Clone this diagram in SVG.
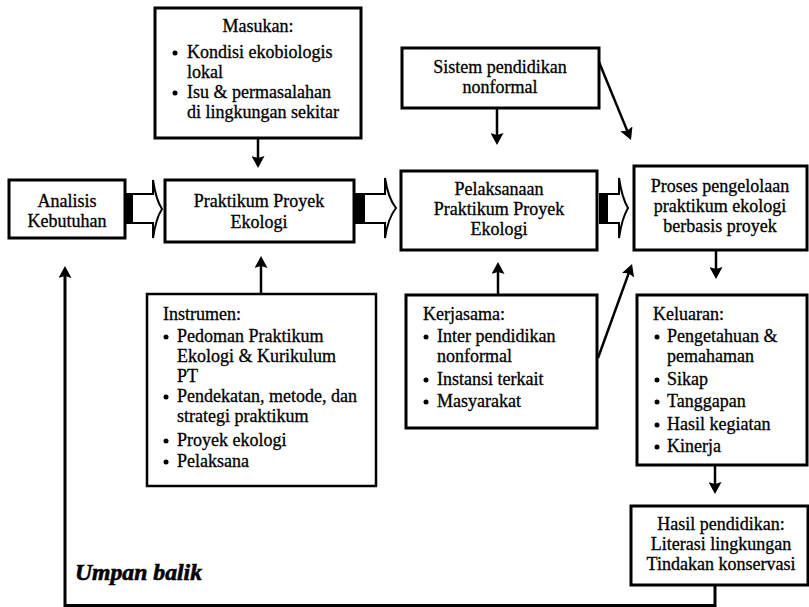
<svg xmlns="http://www.w3.org/2000/svg" width="809" height="607" viewBox="0 0 809 607">
<style>
  .box { fill: #fff; stroke: #000; stroke-width: 3; }
  .thin { stroke-width: 2.5; }
  text { font-family: "Liberation Serif", "Times New Roman", serif; font-size: 18px; fill: #000; stroke: #000; stroke-width: 0.3; }
  .c { text-anchor: middle; }
  .fb { font-weight: bold; font-style: italic; font-size: 23px; stroke-width: 0.6; }
  .ln { fill: none; stroke: #000; stroke-width: 2.5; }
  .fbl { fill: none; stroke: #000; stroke-width: 3; }
  .blk { fill: #fff; stroke: #000; stroke-width: 2; }
  .dot { fill: #000; }
</style>
<defs>
  <marker id="ah" viewBox="0 0 12 13" refX="6" refY="6.5" markerWidth="12" markerHeight="13" markerUnits="userSpaceOnUse" orient="auto">
    <path d="M0,0 L12,6.5 L0,13 L2,6.5 Z" fill="#000"/>
  </marker>
</defs>

<g id="connectors">
  <line class="ln" x1="258" y1="138" x2="258" y2="162" marker-end="url(#ah)"/>
  <line class="ln" x1="497" y1="108" x2="497" y2="139" marker-end="url(#ah)"/>
  <line class="ln" x1="261" y1="294" x2="261" y2="262" marker-end="url(#ah)"/>
  <line class="ln" x1="498" y1="295" x2="498" y2="268" marker-end="url(#ah)"/>
  <line class="ln" x1="716" y1="250" x2="716" y2="273" marker-end="url(#ah)"/>
  <line class="ln" x1="715" y1="465" x2="715" y2="488" marker-end="url(#ah)"/>
  <line class="ln" x1="599" y1="62" x2="628.7" y2="134.4" marker-end="url(#ah)"/>
  <line class="ln" x1="598" y1="358" x2="630" y2="269.6" marker-end="url(#ah)"/>
  <polyline class="fbl" points="715,585 715,605.5 65,605.5 65,272" marker-end="url(#ah)"/>
  <path class="blk" d="M125,194 H153 V180 Q156,200 162,209 Q156,218 153,238 V223 H125 Z"/>
  <rect x="125" y="194" width="8" height="29" fill="#000"/>
  <path class="blk" d="M356,194 H385 V178 Q388,198 396,208 Q388,218 385,238 V223 H356 Z"/>
  <rect x="356" y="194" width="9" height="29" fill="#000"/>
  <path class="blk" d="M600,194 H619 V178 Q622,198 628,208 Q622,218 619,238 V223 H600 Z"/>
  <rect x="600" y="194" width="8" height="29" fill="#000"/>
</g>

<g id="masukan">
  <rect class="box" x="155" y="8" width="206" height="130"/>
  <text class="c" x="258" y="32">Masukan:</text>
  <circle class="dot" cx="175" cy="53" r="2.5"/>
  <text x="187" y="58">Kondisi ekobiologis</text>
  <text x="187" y="78">lokal</text>
  <circle class="dot" cx="175" cy="93" r="2.5"/>
  <text x="187" y="98">Isu &amp; permasalahan</text>
  <text x="187" y="118">di lingkungan sekitar</text>
</g>

<g id="analisis">
  <rect class="box" x="9" y="180" width="116" height="58"/>
  <text class="c" x="67" y="207">Analisis</text>
  <text class="c" x="67" y="227">Kebutuhan</text>
</g>

<g id="praktikum">
  <rect class="box" x="165" y="180" width="189" height="62"/>
  <text class="c" x="259" y="207">Praktikum Proyek</text>
  <text class="c" x="259" y="228">Ekologi</text>
</g>

<g id="sistem">
  <rect class="box" x="402" y="48" width="197" height="60"/>
  <text class="c" x="500" y="73">Sistem pendidikan</text>
  <text class="c" x="500" y="93">nonformal</text>
</g>

<g id="pelaksanaan">
  <rect class="box" x="401" y="171" width="196" height="79"/>
  <text class="c" x="499" y="195">Pelaksanaan</text>
  <text class="c" x="499" y="215">Praktikum Proyek</text>
  <text class="c" x="499" y="235">Ekologi</text>
</g>

<g id="proses">
  <rect class="box" x="634" y="166" width="173" height="84"/>
  <text class="c" x="720" y="192">Proses pengelolaan</text>
  <text class="c" x="720" y="212">praktikum ekologi</text>
  <text class="c" x="720" y="232">berbasis proyek</text>
</g>

<g id="instrumen">
  <rect class="box thin" x="147" y="294" width="229" height="192"/>
  <text x="163" y="320">Instrumen:</text>
  <circle class="dot" cx="166" cy="337" r="2.5"/>
  <text x="177" y="342">Pedoman Praktikum</text>
  <text x="177" y="362">Ekologi &amp; Kurikulum</text>
  <text x="177" y="382">PT</text>
  <circle class="dot" cx="166" cy="397" r="2.5"/>
  <text x="177" y="402">Pendekatan, metode, dan</text>
  <text x="177" y="422">strategi praktikum</text>
  <circle class="dot" cx="166" cy="441" r="2.5"/>
  <text x="177" y="446">Proyek ekologi</text>
  <circle class="dot" cx="166" cy="462" r="2.5"/>
  <text x="177" y="467">Pelaksana</text>
</g>

<g id="kerjasama">
  <rect class="box" x="406" y="295" width="191" height="133"/>
  <text x="423" y="320">Kerjasama:</text>
  <circle class="dot" cx="426" cy="337" r="2.5"/>
  <text x="437" y="342">Inter pendidikan</text>
  <text x="437" y="362">nonformal</text>
  <circle class="dot" cx="426" cy="380" r="2.5"/>
  <text x="437" y="385">Instansi terkait</text>
  <circle class="dot" cx="426" cy="402" r="2.5"/>
  <text x="437" y="407">Masyarakat</text>
</g>

<g id="keluaran">
  <rect class="box" x="637" y="295" width="170" height="170"/>
  <text x="653" y="320">Keluaran:</text>
  <circle class="dot" cx="657" cy="337" r="2.5"/>
  <text x="667" y="342">Pengetahuan &amp;</text>
  <text x="667" y="362">pemahaman</text>
  <circle class="dot" cx="657" cy="380" r="2.5"/>
  <text x="667" y="385">Sikap</text>
  <circle class="dot" cx="657" cy="402" r="2.5"/>
  <text x="667" y="407">Tanggapan</text>
  <circle class="dot" cx="657" cy="425" r="2.5"/>
  <text x="667" y="430">Hasil kegiatan</text>
  <circle class="dot" cx="657" cy="447" r="2.5"/>
  <text x="667" y="452">Kinerja</text>
</g>

<g id="hasil">
  <rect class="box" x="631" y="506" width="177" height="79"/>
  <text class="c" x="721" y="530">Hasil pendidikan:</text>
  <text class="c" x="721" y="550">Literasi lingkungan</text>
  <text class="c" x="721" y="570">Tindakan konservasi</text>
</g>

<g id="umpan-balik">
  <text class="fb" x="75" y="580" textLength="127" lengthAdjust="spacingAndGlyphs">Umpan balik</text>
</g>
</svg>
